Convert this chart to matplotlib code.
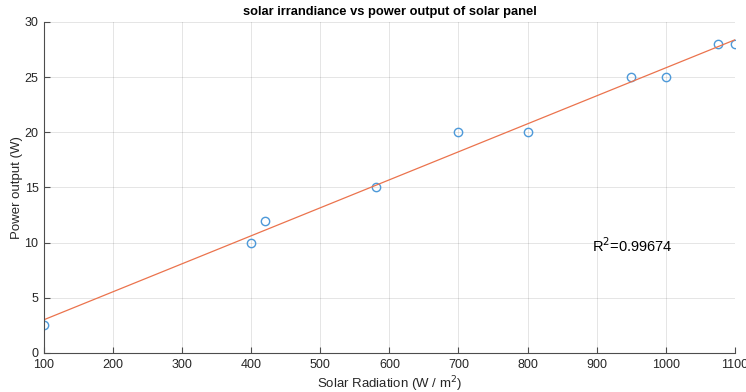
import numpy as np
import matplotlib.pyplot as plt

plt.rcParams['font.family'] = ['Liberation Sans', 'DejaVu Sans']

radiation = [100, 400, 420, 580, 700, 800, 950, 1000, 1075, 1100]
power = [2.5, 10, 12, 15, 20, 20, 25, 25, 28, 28]
r2_text = 'R$^2$=0.99674'

x = np.array(radiation, dtype=float)
y = np.array(power, dtype=float)
p = np.polyfit(x, y, 1)
xf = np.array([x.min(), x.max()])

fig = plt.figure(figsize=(7.46, 3.92), dpi=100)
ax = fig.add_axes([0.059, 0.0995, 0.926, 0.8445])

ax.plot(x, y, 'o', mfc='none', mec=(0.3, 0.6, 0.85), ms=6, mew=1.0)
ax.plot(xf, np.polyval(p, xf), color=(0.92, 0.45, 0.3), lw=0.9)

ax.set_xlim(100, 1100)
ax.set_ylim(0, 30)
ax.set_xticks(np.arange(100, 1101, 100))
ax.set_yticks(np.arange(0, 31, 5))
ax.grid(True, color=(0.15, 0.15, 0.15), alpha=0.12, lw=0.7)
ax.set_axisbelow(True)
for s in ['top', 'right']:
    ax.spines[s].set_visible(False)
for s in ['left', 'bottom']:
    ax.spines[s].set_color((0.3, 0.3, 0.3))
    ax.spines[s].set_linewidth(0.8)
ax.tick_params(direction='in', length=4, width=0.8, color=(0.3, 0.3, 0.3),
               labelsize=9, labelcolor=(0.15, 0.15, 0.15), pad=4)

ax.set_title('solar irrandiance vs power output of solar panel', fontsize=9.3,
             fontweight='bold', pad=5)
ax.set_xlabel('Solar Radiation (W / m$^2$)', fontsize=9.5, color=(0.15, 0.15, 0.15), labelpad=3)
ax.set_ylabel('Power output (W)', fontsize=9.5, color=(0.15, 0.15, 0.15), labelpad=1)
ax.text(893, 9.7, r2_text, fontsize=10.5, va='center', ha='left', color='black')

fig.savefig('out.png', dpi=100)
